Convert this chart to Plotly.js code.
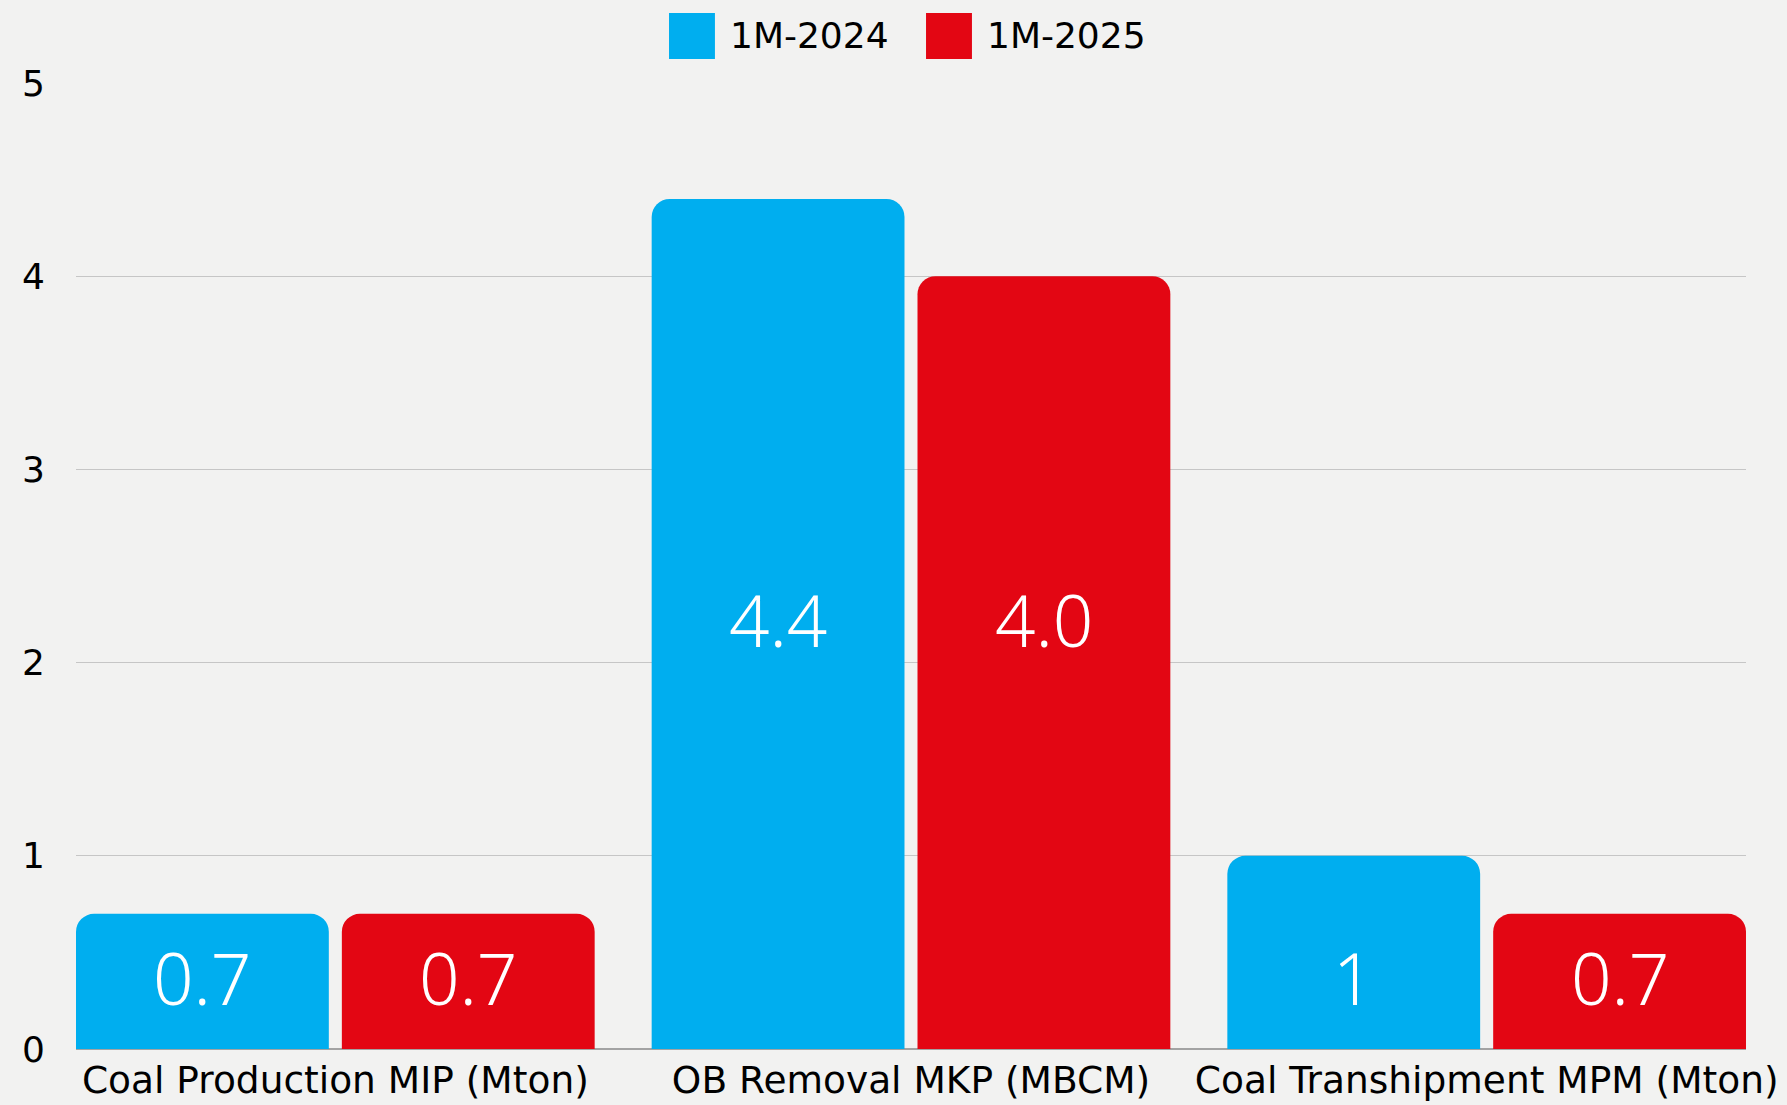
<!DOCTYPE html>
<html>
<head>
<meta charset="utf-8">
<script src="https://cdn.plot.ly/plotly-3.0.1.min.js"></script>
<style>
  html, body { margin: 0; padding: 0; background: #f2f2f1; }
  #chart { width: 1787px; height: 1105px; }
</style>
</head>
<body>
<div id="chart"></div>
<script>
// categories + series
const categories = ['Coal Production MIP (Mton)', 'OB Removal MKP (MBCM)', 'Coal Transhipment MPM (Mton)'];
const seriesNames = ['1M-2024', '1M-2025'];
const values2024 = [0.7, 4.4, 1];
const values2025 = [0.7, 4.0, 0.7];
const labels2024 = ['0.7', '4.4', '1'];
const labels2025 = ['0.7', '4.0', '0.7'];
const yTicks = [0, 1, 2, 3, 4, 5];

// in the source both labels of a group sit at one height (mid of one of its bars)
const labelMidY = [values2024[0] / 2, values2024[1] / 2, values2025[2] / 2];

const COL = { blue: '#00aeef', red: '#e30613', bg: '#f2f2f1', grid: '#c6c6c6', axis: '#a3a3a3' };
const FONT = '"DejaVu Sans", "Noto Sans", sans-serif';
const LIGHT = '"Noto Sans", "Open Sans", sans-serif';

const barTrace = (name, y, color) => ({
  type: 'bar', name, x: categories, y,
  marker: { color, line: { width: 0 } },
  hoverinfo: 'skip', showlegend: false,
});

const data = [
  barTrace(seriesNames[0], values2024, COL.blue),
  barTrace(seriesNames[1], values2025, COL.red),
];

// value labels: white, light, centred on each bar's slot (slot = 266px)
const valueLabels = [];
[[labels2024, -133], [labels2025, 133]].forEach(([labels, shift]) => {
  labels.forEach((t, i) => valueLabels.push({
    x: categories[i], y: labelMidY[i], xshift: shift, yshift: 4, text: t, showarrow: false,
    xanchor: 'center', yanchor: 'middle',
    font: { family: LIGHT, size: 71, color: '#ffffff', weight: 300 },
  }));
});

// hand-made legend: big squares + labels above the plot area
const legendItems = [
  { name: seriesNames[0], color: COL.blue, x0: 0.3551 },
  { name: seriesNames[1], color: COL.red, x0: 0.5090 },
];
const shapes = legendItems.map((it) => ({
  type: 'rect', xref: 'paper', yref: 'paper', x0: it.x0, x1: it.x0 + 0.0275,
  y0: 1.0248, y1: 1.0725, fillcolor: it.color, line: { width: 0 },
}));
const legendLabels = legendItems.map((it) => ({
  xref: 'paper', yref: 'paper', x: it.x0 + 0.0353, y: 1.0487, xanchor: 'left', yanchor: 'middle',
  text: it.name, showarrow: false, font: { family: FONT, size: 36, color: '#000000' },
}));

const layout = {
  width: 1787, height: 1105,
  paper_bgcolor: COL.bg, plot_bgcolor: COL.bg,
  font: { family: FONT, color: '#000000' },
  margin: { l: 76, r: 41, t: 83, b: 56 },
  barmode: 'group', bargap: 0.0764, bargroupgap: 0.049, barcornerradius: 18,
  showlegend: false,
  xaxis: {
    type: 'category', range: [-0.4505, 2.4505], showgrid: false,
    tickfont: { size: 37.5, family: FONT, color: '#000000' }, ticks: '', ticklabelstandoff: 5,
  },
  yaxis: {
    range: [0, 5], tickvals: yTicks, showgrid: true, gridcolor: COL.grid, gridwidth: 1,
    zeroline: true, zerolinecolor: COL.axis, zerolinewidth: 2,
    tickfont: { size: 36, family: FONT, color: '#000000' }, ticks: '', ticklabelstandoff: 30,
  },
  shapes, annotations: valueLabels.concat(legendLabels),
};

Plotly.newPlot('chart', data, layout, { staticPlot: true, displayModeBar: false });
</script>
</body>
</html>
